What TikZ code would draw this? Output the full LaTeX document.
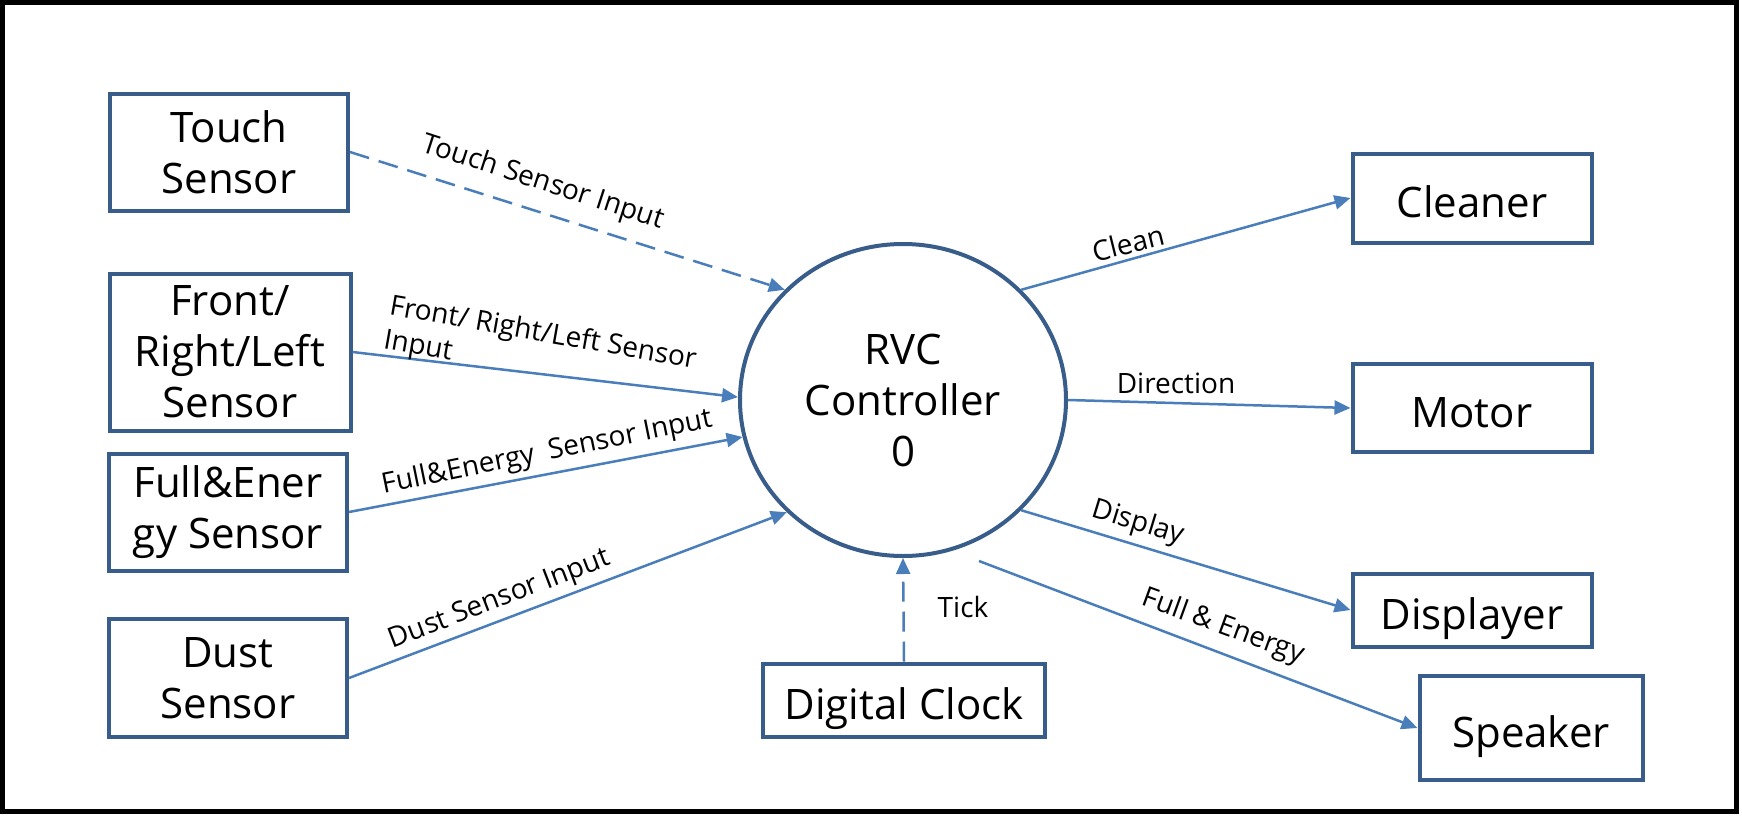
\documentclass[tikz,border=0pt]{standalone}
\usepackage{fontspec}
\setmainfont{Open Sans}
\usepackage{xcolor}
\usepackage{tikz}
\usetikzlibrary{shapes,arrows.meta,positioning}

\definecolor{boxblue}{HTML}{385D8A}
\definecolor{lineblue}{HTML}{4A7EBB}

\tikzset{
    entity/.style={draw=boxblue, line width=2pt, align=center, inner sep=0pt, font=\fontsize{21}{25.5}\selectfont},
    oneline/.style={text height=20pt, text depth=1pt},
    proc/.style={ellipse, draw=boxblue, line width=2pt, align=center, inner sep=0pt, minimum width=163pt, minimum height=156pt, font=\fontsize{21}{25.5}\selectfont},
    flow/.style={draw=lineblue, line width=1.25pt, ->},
    flowdash/.style={flow, dash pattern=on 10pt off 5pt},
    lbl/.style={font=\fontsize{14}{17}\selectfont, inner sep=0pt, align=left},
    >={Triangle[length=8pt,width=7pt]}
}

\begin{document}
\begin{tikzpicture}[x=0.5pt,y=-0.5pt]
        \useasboundingbox (0,0) rectangle (1742,815);
        \draw[line width=2.5pt] (2.5,2.5) rectangle (1736,811);
        % sensors
        \node[entity, minimum width=119pt, minimum height=58.5pt] (touch) at (229,152) {Touch\\Sensor};
        \node[entity, minimum width=120.5pt, minimum height=78.5pt] (frl) at (230,352) {Front/\\Right/Left\\Sensor};
        \node[entity, minimum width=119pt, minimum height=58.5pt] (fe) at (228,512) {Full\&Ener\\gy Sensor};
        \node[entity, minimum width=119pt, minimum height=59pt] (dust) at (228,678) {Dust\\Sensor};
        \node[entity, oneline, minimum width=141pt, minimum height=36.5pt] (clock) at (904,700) {Digital Clock};
        % controller
        \node[proc] (rvc) at (903,400) {RVC\\Controller\\0};
        % outputs
        \node[entity, oneline, minimum width=119.5pt, minimum height=44.5pt] (cleaner) at (1472,198) {Cleaner};
        \node[entity, oneline, minimum width=119.5pt, minimum height=44pt] (motor) at (1472,408) {Motor};
        \node[entity, oneline, minimum width=119.5pt, minimum height=36.5pt] (displayer) at (1472,610) {Displayer};
        \node[entity, oneline, minimum width=111.5pt, minimum height=52pt] (speaker) at (1531,728) {Speaker};
        \coordinate (spk0) at (979,561);
        % flows in
        \draw[flowdash] (touch.east) -- (rvc.137);
        \draw[flow] (frl.east) -- (rvc.179);
        \draw[flow] (fe.east) -- (rvc.193);
        \draw[flow] (dust.east) -- (rvc.224);
        \draw[flowdash] (clock.north) -- (rvc.south);
        % flows out
        \draw[flow] (rvc.43) -- (cleaner.west);
        \draw[flow] (rvc.east) -- (motor.west);
        \draw[flow] (rvc.-43) -- (displayer.west);
        \draw[flow] (spk0) -- (speaker.west);
        % labels
        \node[lbl, rotate=-18] (ltouch) at (543,183) {Touch Sensor Input};
        \node[lbl, rotate=-10, anchor=north west] (lfrl) at (392,293) {Front/ Right/Left Sensor\\Input};
        \node[lbl, rotate=11.5] (lfe) at (547,453) {Full\&Energy\ \ Sensor Input};
        \node[lbl, rotate=21] (ldust) at (500,600) {Dust Sensor Input};
        \node[lbl] (ltick) at (963,607) {Tick};
        \node[lbl, rotate=14] (lclean) at (1128,243) {Clean};
        \node[lbl] (ldir) at (1176,383) {Direction};
        \node[lbl, rotate=-17] (ldisp) at (1138,523) {Display};
        \node[lbl, rotate=-20] (lfull) at (1223,627) {Full \& Energy};
\end{tikzpicture}
\end{document}
